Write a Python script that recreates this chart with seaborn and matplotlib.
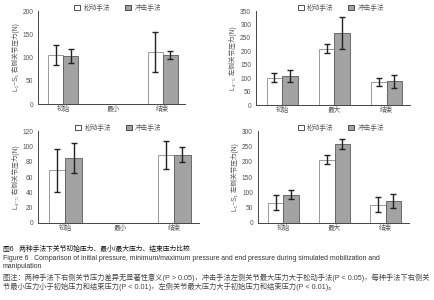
import numpy as np
import pandas as pd
import matplotlib.pyplot as plt
import seaborn as sns

methods = ['松动手法', '冲击手法']
cats_right = ['初始', '最小', '结束']
cats_left = ['初始', '最大', '结束']

# panel A: L5-S1 right
a_loose = [106, np.nan, 111]
a_loose_sd = [22, np.nan, 43]
a_thrust = [104, np.nan, 105]
a_thrust_sd = [15, np.nan, 9]
# panel B: L4-5 left
b_loose = [102, 210, 85]
b_loose_sd = [17, 18, 14]
b_thrust = [107, 268, 88]
b_thrust_sd = [22, 60, 24]
# panel C: L4-5 right
c_loose = [69, np.nan, 89]
c_loose_sd = [28, np.nan, 18]
c_thrust = [85, np.nan, 89]
c_thrust_sd = [20, np.nan, 10]
# panel D: L5-S1 left
d_loose = [66, 206, 60]
d_loose_sd = [25, 15, 26]
d_thrust = [92, 258, 72]
d_thrust_sd = [15, 16, 22]

sns.set_style('white')
plt.rcParams['font.family'] = ['Liberation Sans', 'Noto Sans CJK SC', 'DejaVu Sans']

fig = plt.figure(figsize=(4.34, 3.0), dpi=100)
pal = {'松动手法': 'white', '冲击手法': '#a3a3a3'}
edges = ['#8a8a8a', '#5a5a5a']


def panel(rect, cats, loose, loose_sd, thrust, thrust_sd, ymax, step, ylabel, legx):
    ax = fig.add_axes(rect)
    df = pd.DataFrame({
        'cat': cats * 2,
        'method': [methods[0]] * 3 + [methods[1]] * 3,
        'val': loose + thrust,
    })
    sns.barplot(data=df, x='cat', y='val', hue='method', order=cats, hue_order=methods,
                palette=pal, width=0.6, errorbar=None, ax=ax, linewidth=0.6)
    for cont, ec in zip(ax.containers, edges):
        for p in cont:
            p.set_edgecolor(ec)
    for k, (vals, sds) in enumerate([(loose, loose_sd), (thrust, thrust_sd)]):
        xs = np.arange(len(cats)) + (k - 0.5) * 0.3
        ax.errorbar(xs, vals, yerr=sds, fmt='none', ecolor='#222222', elinewidth=1.0,
                    capsize=2, capthick=1.0)
    ax.set_xlim(-0.5, 2.45)
    ax.set_ylim(0, ymax)
    ax.set_yticks(np.arange(0, ymax + 1, step))
    ax.set_xlabel('')
    ax.set_ylabel(ylabel, fontsize=4.8, color='#555555', labelpad=2)
    sns.despine(ax=ax)
    for s in ['left', 'bottom']:
        ax.spines[s].set_color('#444444')
        ax.spines[s].set_linewidth(0.7)
    ax.tick_params(axis='both', labelsize=4.8, colors='#555555', length=2, width=0.5, pad=1.5)
    ax.tick_params(axis='x', length=0)
    leg = ax.legend(loc='center', bbox_to_anchor=(legx, 1.03), ncol=2, frameon=False,
                    fontsize=4.8, handlelength=0.9, handleheight=0.7, columnspacing=2.2,
                    handletextpad=0.5, borderaxespad=0)
    for t in leg.get_texts():
        t.set_color('#555555')
    for h, ec in zip(leg.legend_handles, ['#333333', '#333333']):
        h.set_edgecolor(ec)
        h.set_linewidth(0.6)
    return ax


panel([0.088, 0.653, 0.339, 0.31], cats_right, a_loose, a_loose_sd, a_thrust, a_thrust_sd,
      200, 50, 'L₅~S₁ 右侧关节压力(N)', 0.54)
panel([0.590, 0.650, 0.355, 0.313], cats_left, b_loose, b_loose_sd, b_thrust, b_thrust_sd,
      350, 50, 'L₄₋₅ 左侧关节压力(N)', 0.55)
panel([0.088, 0.257, 0.37, 0.306], cats_right, c_loose, c_loose_sd, c_thrust, c_thrust_sd,
      120, 20, 'L₄₋₅ 右侧关节压力(N)', 0.5)
panel([0.594, 0.257, 0.348, 0.306], cats_left, d_loose, d_loose_sd, d_thrust, d_thrust_sd,
      300, 50, 'L₅~S₁ 左侧关节压力(N)', 0.55)

caption = [
    (249, '图6   两种手法下关节初始压力、最小/最大压力、结束压力比较', '#111111', 4.9),
    (259, 'Figure 6   Comparison of initial pressure, minimum/maximum pressure and end pressure during simulated mobilization and', '#333333', 4.95),
    (267, 'manipulation', '#333333', 4.95),
    (278, '图注：两种手法下右侧关节压力差异无显著性意义(P > 0.05)，冲击手法左侧关节最大压力大于松动手法(P < 0.05)，每种手法下右侧关', '#444444', 5.2),
    (287, '节最小压力小于初始压力和结束压力(P < 0.01)，左侧关节最大压力大于初始压力和结束压力(P < 0.01)。', '#444444', 5.2),
]
for y, txt, col, fs in caption:
    fig.text(3 / 434, 1 - y / 300, txt, fontsize=fs, color=col, va='center', ha='left')

fig.savefig('out.png', dpi=100)
